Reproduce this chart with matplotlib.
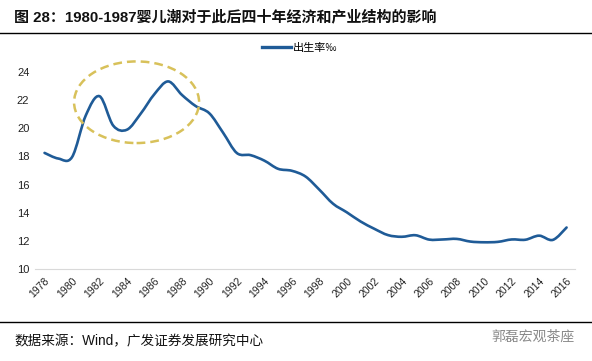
import matplotlib
matplotlib.use('Agg')
import matplotlib.pyplot as plt
from matplotlib.path import Path
from matplotlib.patches import PathPatch, Ellipse
import numpy as np

# データ（出生率‰）
years = list(range(1978, 2017))
birth_rate = [18.25, 17.85, 17.95, 20.91, 22.28, 20.19, 19.90, 21.04, 22.43, 23.33,
              22.37, 21.58, 21.06, 19.68, 18.24, 18.09, 17.70, 17.12, 16.98, 16.57,
              15.64, 14.64, 14.03, 13.38, 12.86, 12.41, 12.29, 12.40, 12.09, 12.10,
              12.14, 11.95, 11.90, 11.93, 12.10, 12.08, 12.37, 12.07, 12.95]
tick_years = years[::2]
y_ticks = [10, 12, 14, 16, 18, 20, 22, 24]

title = '图 28：1980-1987婴儿潮对于此后四十年经济和产业结构的影响'
source = '数据来源：Wind，广发证券发展研究中心'
legend_label = '出生率‰'

plt.rcParams['font.family'] = ['Liberation Sans', 'Noto Sans CJK SC', 'DejaVu Sans']

fig = plt.figure(figsize=(5.92, 3.61), dpi=100)
ax = fig.add_axes([0.059, 0.2548, 0.912, 0.5458])

# 平滑線（Catmull-Rom → ベジェ）
x = np.array(years, dtype=float)
y = np.array(birth_rate)
verts = [(x[0], y[0])]
codes = [Path.MOVETO]
for i in range(len(x) - 1):
    p0 = (x[i - 1], y[i - 1]) if i > 0 else (x[i], y[i])
    p1 = (x[i], y[i])
    p2 = (x[i + 1], y[i + 1])
    p3 = (x[i + 2], y[i + 2]) if i + 2 < len(x) else p2
    c1 = (p1[0] + (p2[0] - p0[0]) / 6, p1[1] + (p2[1] - p0[1]) / 6)
    c2 = (p2[0] - (p3[0] - p1[0]) / 6, p2[1] - (p3[1] - p1[1]) / 6)
    verts += [c1, c2, p2]
    codes += [Path.CURVE4] * 3
line_color = '#1f5b97'
ax.add_patch(PathPatch(Path(verts, codes), facecolor='none', edgecolor=line_color,
                       lw=1.9, capstyle='round', joinstyle='round'))
ax.plot([], [], color=line_color, lw=2.4, label=legend_label)

# 楕円
ell = Ellipse((1984.7, 21.85), 9.1, 5.8, fill=False, edgecolor='#d8c15a',
              lw=1.8, linestyle=(0, (3.5, 2)), clip_on=False)
ax.add_patch(ell)

ax.set_xlim(1977.3, 2016.6)
ax.set_ylim(10, 24)
ax.set_yticks(y_ticks)
ax.set_yticklabels([str(v) for v in y_ticks], fontsize=8, color='#222222')
ax.set_xticks(tick_years)
ax.set_xticklabels([str(v) for v in tick_years], rotation=45, ha='right', va='top',
                   rotation_mode='anchor', fontsize=7.5, color='#222222')
ax.tick_params(axis='both', length=0, pad=4)
ax.tick_params(axis='x', pad=5)
for s in ['top', 'right', 'left']:
    ax.spines[s].set_visible(False)
ax.spines['bottom'].set_color('#d9d9d9')
ax.spines['bottom'].set_linewidth(0.8)

leg = ax.legend(loc='center', bbox_to_anchor=(300 / 592, 1 - 48 / 361),
                bbox_transform=fig.transFigure, frameon=False,
                handlelength=2.6, handletextpad=0.2,
                prop={'family': ['Noto Sans CJK SC', 'DejaVu Sans'], 'size': 8})

# タイトル・出典
fig.text(14 / 592, 1 - 17 / 361, title, fontsize=10.8, fontweight='bold',
         ha='left', va='center', color='#111111')
fig.add_artist(plt.Line2D([0, 1], [1 - 33 / 361] * 2, color='black', lw=1.0,
                          transform=fig.transFigure))
fig.add_artist(plt.Line2D([0, 1], [1 - 322 / 361] * 2, color='black', lw=1.0,
                          transform=fig.transFigure))
fig.text(14 / 592, 1 - 341 / 361, source, fontsize=9.8, ha='left', va='center',
         color='#111111')
fig.text(575 / 592, 1 - 337 / 361, '郭磊宏观茶座', fontsize=10, ha='right',
         va='center', color='#8a8a8a')

fig.savefig('out.png', dpi=100)
